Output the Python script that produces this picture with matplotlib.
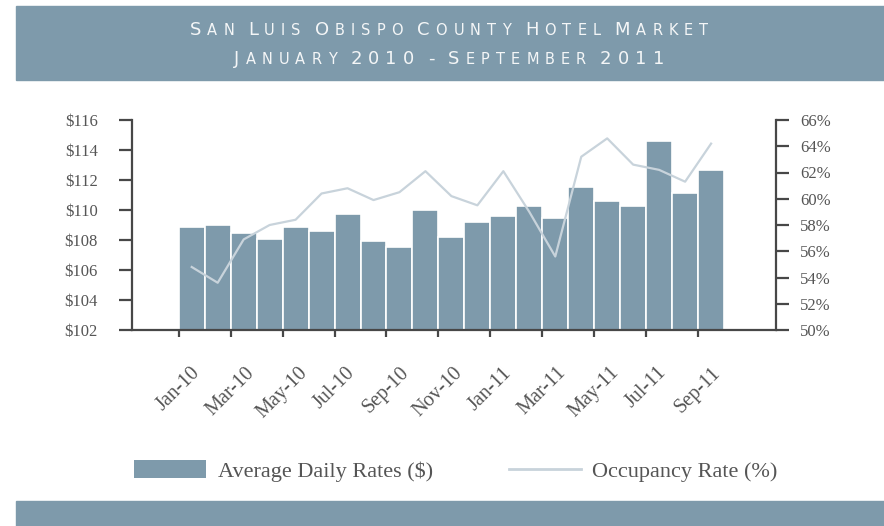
import numpy as np
import matplotlib
matplotlib.use("Agg")
import matplotlib.pyplot as plt
from matplotlib.patches import Rectangle, Patch
from matplotlib.lines import Line2D
from matplotlib.offsetbox import TextArea, HPacker, AnchoredOffsetbox

# monthly data, Jan 2010 - Sep 2011
months = ['Jan-10', 'Feb-10', 'Mar-10', 'Apr-10', 'May-10', 'Jun-10', 'Jul-10',
          'Aug-10', 'Sep-10', 'Oct-10', 'Nov-10', 'Dec-10', 'Jan-11', 'Feb-11',
          'Mar-11', 'Apr-11', 'May-11', 'Jun-11', 'Jul-11', 'Aug-11', 'Sep-11']
adr = [108.89, 109.02, 108.47, 108.07, 108.89, 108.60, 109.73, 107.91, 107.51,
       110.00, 108.20, 109.18, 109.60, 110.29, 109.44, 111.53, 110.58, 110.29,
       114.62, 111.11, 112.64]
occupancy = [54.8, 53.6, 56.9, 58.0, 58.4, 60.4, 60.8, 59.9, 60.5, 62.1, 60.2,
             59.5, 62.1, 59.0, 55.6, 63.2, 64.6, 62.6, 62.2, 61.3, 64.2]
adr_ticks = [102, 104, 106, 108, 110, 112, 114, 116]
occ_ticks = [50, 52, 54, 56, 58, 60, 62, 64, 66]

BAR = '#7E9AAB'
LINE = '#C8D3DB'
AXIS = '#474747'
TEXT = '#555555'
SERIF = 'Liberation Serif'

fig = plt.figure(figsize=(8.84, 5.26), dpi=100)

# header and footer bands
fig.patches.append(Rectangle((16 / 884, 1 - 80 / 526), 1, 74 / 526,
                             transform=fig.transFigure, color=BAR, zorder=0))
fig.patches.append(Rectangle((16 / 884, 0), 1, 25 / 526,
                             transform=fig.transFigure, color=BAR, zorder=0))


def small_caps(text, big, small, spacing, word_gap):
    words = []
    for word in text.split(' '):
        chars = []
        for i, ch in enumerate(word):
            size = big if (i == 0 or ch.isdigit()) else small
            chars.append(TextArea(ch.upper(), textprops=dict(
                color='#F4F6F7', fontsize=size, family='DejaVu Sans')))
        words.append(HPacker(children=chars, align='baseline', pad=0, sep=spacing))
    return HPacker(children=words, align='baseline', pad=0, sep=word_gap)


for txt, ypix in [('San Luis Obispo County Hotel Market', 30),
                  ('January 2010 - September 2011', 59)]:
    box = AnchoredOffsetbox(loc='center', child=small_caps(txt, 13, 10.5, 4.4, 10),
                            bbox_to_anchor=(449 / 884, 1 - ypix / 526),
                            bbox_transform=fig.transFigure, frameon=False,
                            pad=0, borderpad=0)
    fig.add_artist(box)

ax = fig.add_axes([132 / 884, 1 - 330 / 526, 644 / 884, 210 / 526])
ax.set_facecolor('none')
x = np.arange(len(months))
ax.bar(x, adr, width=1.0, color=BAR, edgecolor='white', linewidth=1.2,
       bottom=0, zorder=2)
ax.set_ylim(102, 116)
ax.set_xlim(-2.3, 22.5)
ax.set_yticks(adr_ticks)
ax.set_yticklabels(['$%d' % v for v in adr_ticks])
ax.set_xticks(np.arange(-0.5, len(months) - 1, 2))
ax.set_xticklabels(months[::2], rotation=45, ha='center', va='top')

ax2 = ax.twinx()
ax2.plot(x, occupancy, color=LINE, linewidth=1.6, zorder=3)
ax2.set_ylim(50, 66)
ax2.set_yticks(occ_ticks)
ax2.set_yticklabels(['%d%%' % v for v in occ_ticks])

for a in (ax, ax2):
    for s in a.spines.values():
        s.set_visible(False)
        s.set_color(AXIS)
        s.set_linewidth(1.6)
ax.spines['left'].set_visible(True)
ax.spines['bottom'].set_visible(True)
ax2.spines['right'].set_visible(True)

ax.tick_params(axis='y', length=9.5, width=1.6, color=AXIS, pad=15,
               labelsize=12, labelcolor=TEXT, labelfontfamily=SERIF)
ax.tick_params(axis='x', length=5, width=1.6, color=AXIS, pad=19,
               labelsize=14.5, labelcolor=TEXT, labelfontfamily=SERIF)
ax2.tick_params(axis='y', length=9.5, width=1.6, color=AXIS, pad=8,
                labelsize=12, labelcolor=TEXT, labelfontfamily=SERIF)

handles = [Patch(facecolor=BAR, edgecolor='none'),
           Line2D([], [], color=LINE, linewidth=2)]
fig.legend(handles, ['Average Daily Rates ($)', 'Occupancy Rate (%)'],
           loc='center', bbox_to_anchor=(456 / 884, 1 - 471 / 526), ncol=2,
           frameon=False, prop={'family': SERIF, 'size': 16},
           labelcolor=TEXT, handlelength=3.24, handleheight=0.85,
           handletextpad=0.52, columnspacing=3.4, borderpad=0)

fig.savefig('out.png', dpi=100)
